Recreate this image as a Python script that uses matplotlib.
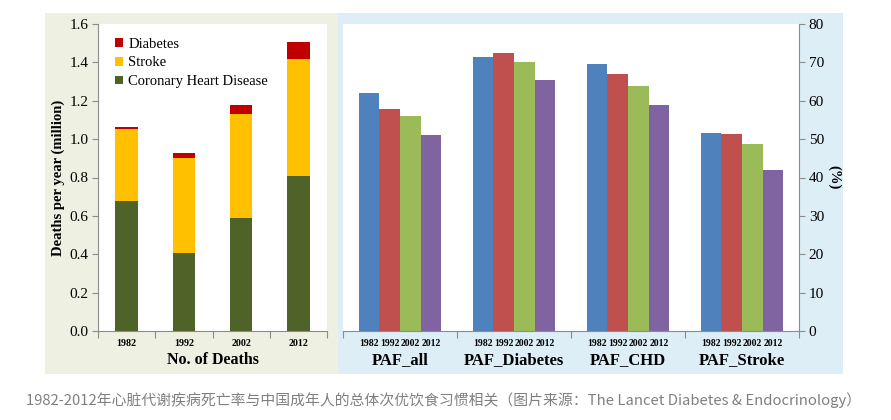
import matplotlib.pyplot as plt
import matplotlib.patches as mpatches
import numpy as np

# left panel: deaths per year (million)
years = ['1982', '1992', '2002', '2012']
chd = [0.68, 0.405, 0.59, 0.81]
stroke = [0.375, 0.495, 0.54, 0.605]
diabetes = [0.01, 0.03, 0.05, 0.09]

# right panel: PAF (%)
groups = ['PAF_all', 'PAF_Diabetes', 'PAF_CHD', 'PAF_Stroke']
paf_1982 = [62.0, 71.5, 69.7, 51.5]
paf_1992 = [57.8, 72.5, 67.0, 51.3]
paf_2002 = [56.0, 70.0, 63.8, 48.6]
paf_2012 = [51.0, 65.5, 58.8, 42.0]

caption = '1982-2012年心脏代谢疾病死亡率与中国成年人的总体次优饮食习惯相关（图片来源：The Lancet Diabetes & Endocrinology）'

plt.rcParams['font.family'] = ['Liberation Serif', 'DejaVu Serif']
axis_grey = '#8c8c8c'

W, H = 891, 420
fig = plt.figure(figsize=(W / 100, H / 100), dpi=100)
fig.patch.set_facecolor('white')

def fbox(x0, y0, x1, y1):
    # pixel box (top-left origin) -> figure fraction
    return [x0 / W, 1 - y1 / H, (x1 - x0) / W, (y1 - y0) / H]

# panel backgrounds
for (x0, y0, x1, y1), c in [((45, 13, 338, 374), '#eef0e1'),
                            ((338, 13, 843, 374), '#ddeef7')]:
    b = fbox(x0, y0, x1, y1)
    fig.add_artist(mpatches.Rectangle((b[0], b[1]), b[2], b[3],
                                      transform=fig.transFigure,
                                      facecolor=c, edgecolor='none', zorder=0))

# ---- left panel
ax1 = fig.add_axes(fbox(98, 24, 327, 331))
ax1.set_facecolor('white')
x = np.arange(len(years))
w = 0.39
ax1.bar(x, chd, w, color='#4f6228', label='Coronary Heart Disease')
ax1.bar(x, stroke, w, bottom=chd, color='#ffc000', label='Stroke')
bottom2 = [a + b for a, b in zip(chd, stroke)]
ax1.bar(x, diabetes, w, bottom=bottom2, color='#c00000', label='Diabetes')
ax1.set_xlim(-0.5, 3.5)
ax1.set_ylim(0, 1.6)
ax1.set_yticks(np.arange(0, 1.61, 0.2))
ax1.set_yticklabels(['%.1f' % v for v in np.arange(0, 1.61, 0.2)],
                    fontsize=11)
ax1.set_xticks(np.arange(-0.5, 3.6, 1))
ax1.set_xticklabels([])
ax1.set_xticks(x, minor=True)
ax1.set_xticklabels(years, minor=True, fontsize=7.2, fontweight='bold')
ax1.tick_params(axis='x', which='minor', length=0, pad=6)
ax1.tick_params(axis='x', which='major', length=5, color=axis_grey)
ax1.tick_params(axis='y', length=4, color=axis_grey, pad=3)
for s in ['top', 'right']:
    ax1.spines[s].set_visible(False)
for s in ['left', 'bottom']:
    ax1.spines[s].set_color(axis_grey)
ax1.set_ylabel('Deaths per year (million)', fontsize=10.5,
               fontweight='bold', labelpad=3)
ax1.set_xlabel('No. of Deaths', fontsize=11.5, fontweight='bold', labelpad=3)
h, l = ax1.get_legend_handles_labels()
ax1.legend(h[::-1], l[::-1], loc='upper left', bbox_to_anchor=(0.05, 0.975),
           frameon=False, prop={'size': 10.5},
           handlelength=0.55, handleheight=0.55, handletextpad=0.35,
           labelspacing=0.4, borderaxespad=0)

# ---- right panel
ax2 = fig.add_axes(fbox(343, 24, 799, 331))
ax2.set_facecolor('white')
g = np.arange(len(groups))
bw = 0.18
series = [paf_1982, paf_1992, paf_2002, paf_2012]
colors = ['#4f81bd', '#c0504d', '#9bbb59', '#8064a2']
minor_pos, minor_lab = [], []
for i, (vals, c) in enumerate(zip(series, colors)):
    off = (i - 1.5) * bw
    ax2.bar(g + off, vals, bw, color=c)
    minor_pos += list(g + off)
    minor_lab += [years[i]] * len(groups)
ax2.set_xlim(-0.5, 3.5)
ax2.set_ylim(0, 80)
ax2.yaxis.tick_right()
ax2.yaxis.set_label_position('right')
ax2.set_yticks(np.arange(0, 81, 10))
ax2.set_yticklabels([str(v) for v in range(0, 81, 10)], fontsize=11)
ax2.set_xticks(np.arange(-0.5, 3.6, 1))
ax2.set_xticklabels([])
ax2.set_xticks(minor_pos, minor=True)
ax2.set_xticklabels(minor_lab, minor=True, fontsize=7, fontweight='bold')
ax2.tick_params(axis='x', which='minor', length=0, pad=6)
ax2.tick_params(axis='x', which='major', length=5, color=axis_grey)
ax2.tick_params(axis='y', length=4, color=axis_grey, pad=3)
for s in ['top', 'left']:
    ax2.spines[s].set_visible(False)
for s in ['right', 'bottom']:
    ax2.spines[s].set_color(axis_grey)
ax2.set_ylabel('(%)', fontsize=10.5, fontweight='bold', rotation=270,
               labelpad=12)
for gi, name in zip(g, groups):
    ax2.text(gi, -0.095, name, transform=ax2.get_xaxis_transform(),
             ha='center', va='center', fontsize=12, fontweight='bold')

fig.text(26 / W, 1 - 400 / H, caption, ha='left', va='center',
         fontsize=10.7, color='#808080',
         family=['Noto Sans CJK SC', 'DejaVu Sans'])

fig.savefig('out.png', dpi=100)
